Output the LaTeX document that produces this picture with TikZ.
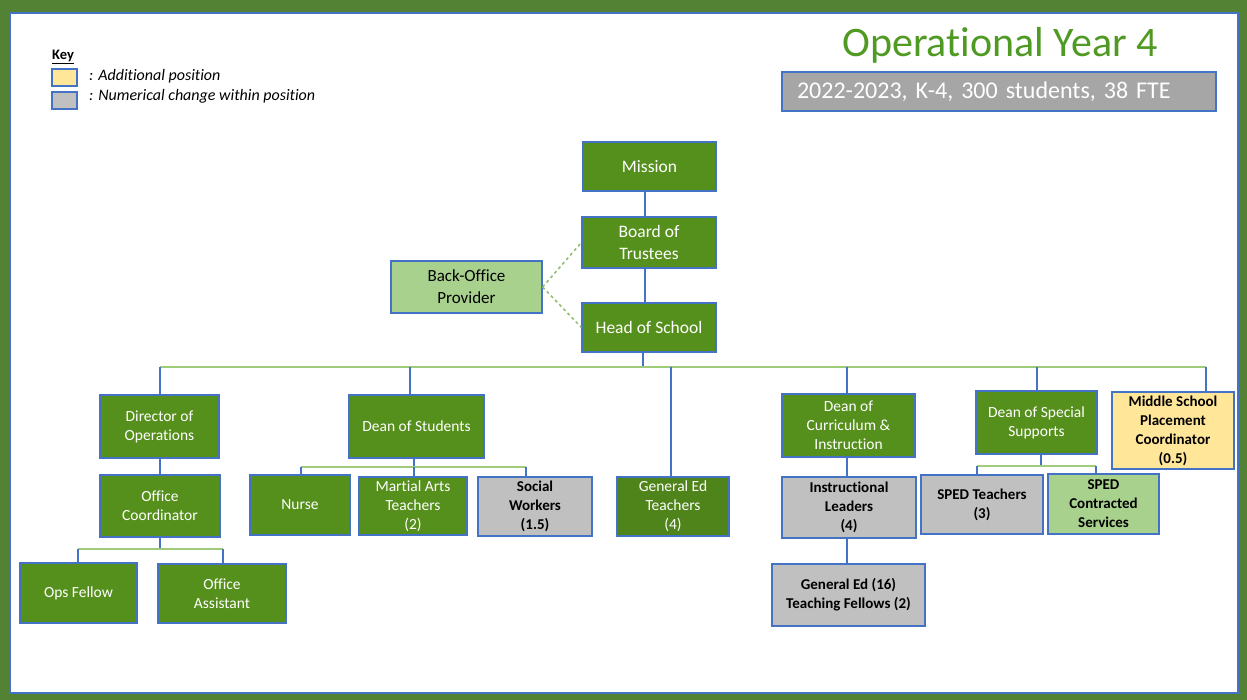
\documentclass[tikz,border=0pt]{standalone}
\usepackage{fontspec}
\setmainfont{Carlito}[Ligatures={NoCommon}]
\usetikzlibrary{calc}
\definecolor{frameg}{HTML}{548235}
\definecolor{boxg}{HTML}{56901C}
\definecolor{lightg}{HTML}{A9D18E}
\definecolor{greyf}{HTML}{C0C0C0}
\definecolor{yel}{HTML}{FFE699}
\definecolor{edge}{HTML}{4472C4}
\definecolor{barg}{HTML}{9FCB7A}
\definecolor{titleg}{HTML}{4F9A22}
\definecolor{subg}{HTML}{A6A6A6}
\definecolor{dashg}{HTML}{8DBE6C}
\begin{document}
\begin{tikzpicture}[x=1pt,y=-1pt,
  basebox/.style={draw=edge, line width=1.2pt, align=center, inner sep=1pt},
  topbox/.style={basebox, fill=boxg, text=white, font=\fontsize{17.5}{22}\selectfont},
  greenbox/.style={basebox, fill=boxg, text=white, font=\fontsize{15.5}{19}\selectfont},
  greybox/.style={basebox, fill=greyf, text=black, font=\bfseries\fontsize{15}{19}\selectfont},
  yellowbox/.style={basebox, fill=yel, text=black, font=\bfseries\fontsize{15}{19}\selectfont},
  lightbox/.style={basebox, fill=lightg, text=black, font=\fontsize{17}{22}\selectfont},
  size/.style n args={2}{minimum width=#1, minimum height=#2},
  conn/.style={draw=edge, line width=1.2pt},
  hbar/.style={draw=barg, line width=1.6pt},
  dashline/.style={draw=dashg, line width=1.5pt, dashed},
  keytext/.style={anchor=west, font=\itshape\fontsize{16}{19}\selectfont, inner sep=0pt}
]
\useasboundingbox (0,0) rectangle (1247,700);
% frame
\fill[frameg] (0,0) rectangle (1247,700);
\draw[edge, fill=white, line width=1.2pt] (10,13) rectangle (1238,693);

% key
\node[anchor=west, font=\bfseries\fontsize{14.5}{17}\selectfont, inner sep=0pt] (keyhead) at (52,57) {\underline{Key}};
\node[basebox, fill=yel, size={25}{17}] (keyyel) at (64.5,77.5) {};
\node[basebox, fill=greyf, size={25}{17}] (keygrey) at (64.5,100.5) {};
\node[keytext] (keyyeltext) at (89,76) {: Additional position};
\node[keytext] (keygreytext) at (89,96) {: Numerical change within position};

% heading
\node[text=titleg, font=\fontsize{42}{48}\selectfont, inner sep=0pt] (title) at (1000,45) {Operational Year 4};
\node[draw=edge, line width=1.2pt, fill=subg, text=white, font=\fontsize{24}{28}\selectfont,
      minimum height=39, text width=404, inner xsep=15, align=left] (facts) at (999,91.5)
      {2022-2023, K-4, 300 students, 38 FTE};

% governance
\node[topbox, size={133}{49}] (mission) at (649.5,166.5) {Mission};
\node[topbox, size={134}{51}] (board) at (649,242.5) {Board of\\Trustees};
\node[topbox, size={134}{49}] (hos) at (649,327.5) {Head of School};
\node[lightbox, size={151}{52}] (bop) at (466.5,287) {Back-Office\\Provider};

% second level
\node[greenbox, size={119}{63}] (dop) at (159.5,426.5) {Director of\\Operations};
\node[greenbox, size={135}{63}] (dos) at (416.5,426.5) {Dean of Students};
\node[greenbox, size={112}{59}, fill=boxg!92!black] (get) at (673,506.5) {General Ed\\Teachers\\(4)};
\node[greenbox, size={133}{63}] (dci) at (848.5,425.5) {Dean of\\Curriculum \&\\Instruction};
\node[greenbox, size={121}{63}] (dss) at (1036.5,422.5) {Dean of Special\\Supports};
\node[yellowbox, size={122}{77}] (msp) at (1173,430.5) {Middle School\\Placement\\Coordinator\\(0.5)};

% operations
\node[greenbox, size={120}{62}] (oc) at (160,506) {Office\\Coordinator};
\node[greenbox, size={117}{60}] (opsf) at (78.5,593) {Ops Fellow};
\node[greenbox, size={128}{59}] (oa) at (222,593.5) {Office\\Assistant};

% students
\node[greenbox, size={100}{60}] (nurse) at (300,505) {Nurse};
\node[greenbox, size={108}{58}] (mat) at (413,506) {Martial Arts\\Teachers\\(2)};
\node[greybox, size={114}{59}] (sw) at (535,506.5) {Social\\Workers\\(1.5)};

% curriculum
\node[greybox, size={134}{61}] (il) at (849,507.5) {Instructional\\Leaders\\(4)};
\node[greybox, size={153}{62}] (ge) at (848.5,595) {General Ed (16)\\Teaching Fellows (2)};

% special supports
\node[greybox, size={122}{59}] (spedt) at (982,504.5) {SPED Teachers\\(3)};
\node[greybox, size={111}{60}, fill=lightg] (spedc) at (1103.5,504) {SPED\\Contracted\\Services};

% governance links
\draw[conn] (mission.south -| 645,0) -- (board.north -| 645,0);
\draw[conn] (board.south -| 645,0) -- (hos.north -| 645,0);
\draw[dashline] (bop.east) -- (board.west);
\draw[dashline] (bop.east) -- (hos.west);

% main bar under the head of school
\coordinate (bar) at (0,367);
\draw[conn] (hos.south -| 643,0) -- (bar -| 643,0);
\draw[hbar] (bar -| 160,0) -- (bar -| 1206,0);
\draw[conn] (bar -| 160,0) -- (dop.north -| 160,0);
\draw[conn] (bar -| 410,0) -- (dos.north -| 410,0);
\draw[conn] (bar -| 671,0) -- (get.north -| 671,0);
\draw[conn] (bar -| 847,0) -- (dci.north -| 847,0);
\draw[conn] (bar -| 1037,0) -- (dss.north -| 1037,0);
\draw[conn] (bar -| 1206,0) -- (msp.north -| 1206,0);

% operations branch
\draw[conn] (dop.south -| 160,0) -- (oc.north -| 160,0);
\coordinate (opsbar) at (0,549);
\draw[conn] (oc.south -| 160,0) -- (opsbar -| 160,0);
\draw[hbar, line width=1.3pt] (opsbar -| 78,0) -- (opsbar -| 223,0);
\draw[conn] (opsbar -| 78,0) -- (opsf.north -| 78,0);
\draw[conn] (opsbar -| 223,0) -- (oa.north -| 223,0);

% students branch
\coordinate (stubar) at (0,467);
\draw[conn] (dos.south -| 414,0) -- (stubar -| 414,0);
\draw[hbar, line width=1.3pt] (stubar -| 301,0) -- (stubar -| 526,0);
\draw[conn] (stubar -| 301,0) -- (nurse.north -| 301,0);
\draw[conn] (stubar -| 414,0) -- (mat.north -| 414,0);
\draw[conn] (stubar -| 526,0) -- (sw.north -| 526,0);

% curriculum branch
\draw[conn] (dci.south -| 847,0) -- (il.north -| 847,0);
\draw[conn] (il.south -| 847,0) -- (ge.north -| 847,0);

% special supports branch
\coordinate (spbar) at (0,466);
\draw[conn] (dss.south -| 1041,0) -- (spbar -| 1041,0);
\draw[hbar, line width=1.3pt] (spbar -| 977,0) -- (spbar -| 1096,0);
\draw[conn] (spbar -| 977,0) -- (spedt.north -| 977,0);
\draw[conn] (spbar -| 1096,0) -- (spedc.north -| 1096,0);
\end{tikzpicture}
\end{document}
